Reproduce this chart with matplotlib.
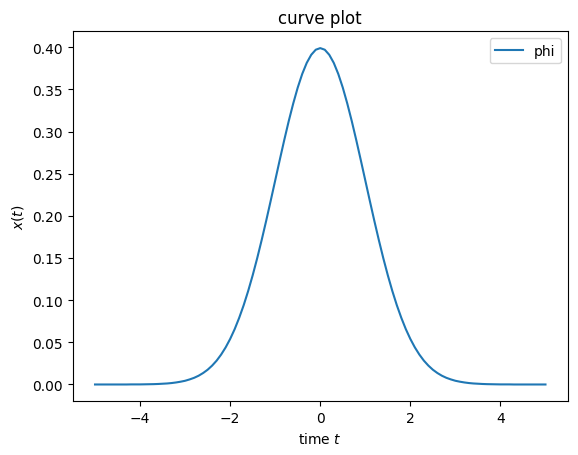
import matplotlib
matplotlib.use("Agg")
import matplotlib.pyplot as plt

# --------------
# Data
# --------------
t = [-5.0, -4.9, -4.8, -4.7, -4.6, -4.5, -4.4, -4.3, -4.2, -4.1,
     -4.0, -3.9, -3.8, -3.7, -3.6, -3.5, -3.4, -3.3, -3.2, -3.1,
     -3.0, -2.9, -2.8, -2.7, -2.6, -2.5, -2.4, -2.3, -2.2, -2.1,
     -2.0, -1.9, -1.8, -1.7, -1.6, -1.5, -1.4, -1.3, -1.2, -1.1,
     -1.0, -0.9, -0.8, -0.7, -0.6, -0.5, -0.4, -0.3, -0.2, -0.1,
     0.0, 0.1, 0.2, 0.3, 0.4, 0.5, 0.6, 0.7, 0.8, 0.9,
     1.0, 1.1, 1.2, 1.3, 1.4, 1.5, 1.6, 1.7, 1.8, 1.9,
     2.0, 2.1, 2.2, 2.3, 2.4, 2.5, 2.6, 2.7, 2.8, 2.9,
     3.0, 3.1, 3.2, 3.3, 3.4, 3.5, 3.6, 3.7, 3.8, 3.9,
     4.0, 4.1, 4.2, 4.3, 4.4, 4.5, 4.6, 4.7, 4.8, 4.9, 5.0]
phi = [0.0000, 0.0000, 0.0000, 0.0000, 0.0000, 0.0000, 0.0000, 0.0000, 0.0001, 0.0001,
       0.0001, 0.0002, 0.0003, 0.0004, 0.0006, 0.0009, 0.0012, 0.0017, 0.0024, 0.0033,
       0.0044, 0.0060, 0.0079, 0.0104, 0.0136, 0.0175, 0.0224, 0.0283, 0.0355, 0.0440,
       0.0540, 0.0656, 0.0790, 0.0940, 0.1109, 0.1295, 0.1497, 0.1714, 0.1942, 0.2179,
       0.2420, 0.2661, 0.2897, 0.3123, 0.3332, 0.3521, 0.3683, 0.3814, 0.3910, 0.3970,
       0.3989, 0.3970, 0.3910, 0.3814, 0.3683, 0.3521, 0.3332, 0.3123, 0.2897, 0.2661,
       0.2420, 0.2179, 0.1942, 0.1714, 0.1497, 0.1295, 0.1109, 0.0940, 0.0790, 0.0656,
       0.0540, 0.0440, 0.0355, 0.0283, 0.0224, 0.0175, 0.0136, 0.0104, 0.0079, 0.0060,
       0.0044, 0.0033, 0.0024, 0.0017, 0.0012, 0.0009, 0.0006, 0.0004, 0.0003, 0.0002,
       0.0001, 0.0001, 0.0001, 0.0000, 0.0000, 0.0000, 0.0000, 0.0000, 0.0000, 0.0000, 0.0000]

# --------------
# Plot
# --------------
fig = plt.figure(figsize=(5.78, 4.56), dpi=100)
ax = fig.add_axes([72.5 / 578, 53.7 / 456, 495.5 / 578, 370 / 456])
ax.plot(t, phi, label="phi")
ax.set_title("curve plot")
ax.set_xlabel("time $t$")
ax.set_ylabel("$x(t)$")
ax.legend()

fig.savefig("out.png", dpi=100)
